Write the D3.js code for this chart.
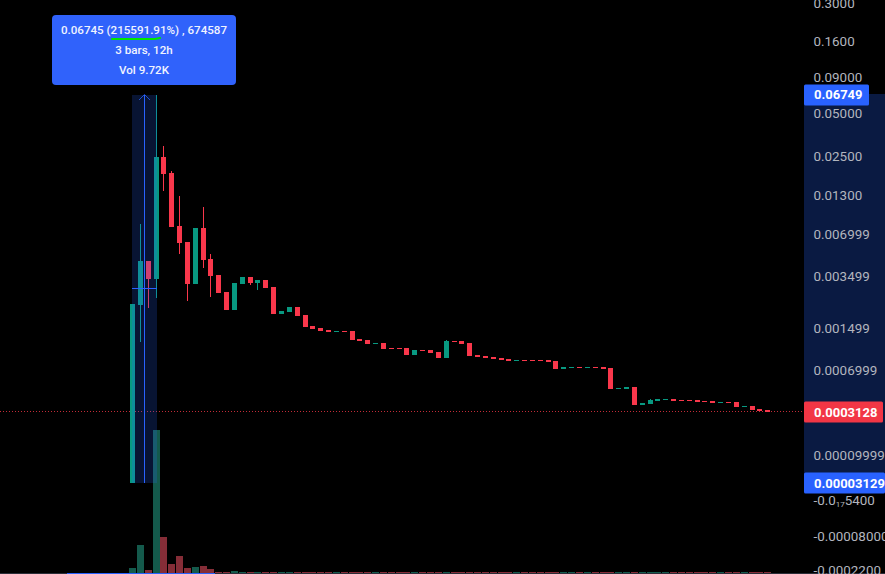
<!DOCTYPE html>
<html><head><meta charset="utf-8">
<style>html,body{margin:0;padding:0;background:#000;overflow:hidden}svg{display:block}text{font-family:Roboto,sans-serif}</style>
<script src="https://cdn.jsdelivr.net/npm/d3@7"></script></head><body>
<svg id="c" width="885" height="574"></svg>
<script>
// Prices in millionths (value * 1e-6)
const opens=[31.29,2181,4482,3332,24580,18800,7947,6133,3071,7699,4632,3557,2696,2010,3071,3442,3122,3278,2925,1883,1946,2111,1853,1549,1499,1446,1394,1420,1420,1228,1206,1121,1142,1043,1043,1043,918.7,1006,1006,970,870,1184,1184,1142,918.7,902.2,886,870,854.4,824,839.1,839.1,839.1,839.1,824,712.7,725.7,739,725.7,739,739,725.7,486.2,486.2,505.2,357.7,364.7,386.3,393.7,401.4,393.7,393.7,393.7,386.3,386.3,371.7,378.9,378.9,344.3,350.9,331.3,325];
const closes=[2217,4482,3332,24580,18490,7822,6033,3071,7699,4557,3499,2652,2010,3122,3442,3122,3278,2877,1883,1978,2111,1823,1524,1472,1420,1394,1420,1394,1206,1184,1121,1142,1025,1025,1025,918.7,1006,987.8,952.6,870,1184,1163,1121,902.2,886,870,854.4,839.1,824,839.1,824,824,824,809.2,712.7,739,739,725.7,739,725.7,712.7,486.2,495.6,505.2,357.7,371.7,393.7,401.4,401.4,386.3,386.3,386.3,378.9,378.9,371.7,378.9,371.7,344.3,350.9,325,318.9,312.8];
const highs=[2217,8203,4482,67490,29370,19440,12800,6133,7699,10740,5031,3557,2696,3122,3442,3442,3278,3278,2925,1978,2111,2111,1853,1549,1499,1446,1420,1420,1420,1228,1206,1142,1142,1043,1043,1043,1006,1006,1006,970,1206,1184,1184,1142,918.7,902.2,886,870,854.4,839.1,839.1,839.1,839.1,839.1,824,739,739,739,739,739,739,725.7,495.6,505.2,505.2,371.7,401.4,401.4,401.4,401.4,393.7,393.7,393.7,386.3,386.3,378.9,378.9,378.9,350.9,350.9,331.3,325];
const lows=[31.29,1163,2077,2445,13900,7822,5031,2328,3071,3993,2485,2652,2010,2010,3071,3022,2785,2877,1883,1883,1946,1823,1524,1472,1420,1394,1394,1394,1206,1184,1121,1121,1025,1025,1025,918.7,918.7,987.8,952.6,870,870,1163,1121,902.2,886,870,854.4,839.1,824,824,824,824,824,809.2,712.7,712.7,725.7,725.7,725.7,725.7,712.7,486.2,486.2,486.2,357.7,357.7,364.7,386.3,393.7,386.3,386.3,386.3,378.9,378.9,371.7,371.7,371.7,344.3,344.3,325,318.9,312.8];
const volumes=[280,1565,168,7990,2010,503,950,280,335,390,224,56,56,112,56,56,30,30,30,30,30,30,30,30,30,30,30,30,30,30,30,30,30,30,30,30,30,30,30,30,30,30,30,30,30,30,30,30,30,30,30,30,30,30,30,30,30,30,30,30,30,30,30,30,30,30,30,30,30,30,30,30,30,30,30,30,30,30,30,30,30,30];
const tickValues=[0.3,0.16,0.09,0.05,0.025,0.013,0.006999,0.003499,0.001499,0.0006999,0.00009999];
const tickLabels=["0.3000","0.1600","0.09000","0.05000","0.02500","0.01300","0.006999","0.003499","0.001499","0.0006999","0.00009999"];
const negValues=[-5.4e-22,-0.00008,-0.00022];
const negLabels=["-0.0₁₇5400","-0.00008000","-0.0002200"];
const rangeHigh=0.06749, rangeLow=0.00003129, lastPrice=0.0003128, crossPrice=0.002877;
const tooltipLines=["0.06745 (215591.91%) , 674587","3 bars, 12h","Vol 9.72K"];
const unit=1e-6;

const GREEN="#089981",RED="#f9374b",BLUE="#2962ff";
const svg=d3.select("#c");
const n=opens.length;
const x=d3.scaleLinear().domain([0,n-1]).range([132.5,767.7]);
const px=i=>Math.floor(x(i))+0.5;
const y=d3.scaleLog()
  .domain([0.3,0.16,0.09,0.05,0.025,0.013,0.006999,0.003499,0.001499,0.0006999,0.0003128,0.00009999,0.00003129])
  .range([3,41,77,113,156,195,234,276,328,370,412,455,483]);
const yNeg=d3.scaleLinear().domain(negValues).range([499.5,536,570]);
const yVol=d3.scaleLinear().domain([0,d3.max(volumes)]).range([573,430]);
const idx=d3.range(n);
const up=i=>closes[i]>=opens[i];
const axisX=804;

svg.append("rect").attr("width",885).attr("height",574).attr("fill","#000");

// bottom edge
svg.append("line").attr("x1",0).attr("x2",885).attr("y1",573.5).attr("y2",573.5).attr("stroke","#2a2e39");
svg.append("line").attr("x1",67).attr("x2",215).attr("y1",573.5).attr("y2",573.5).attr("stroke",BLUE);

// last price line
svg.append("line").attr("x1",0).attr("x2",axisX).attr("y1",y(lastPrice)-0.5).attr("y2",y(lastPrice)-0.5)
  .attr("stroke","#f23645").attr("stroke-opacity",.8).attr("stroke-dasharray","1 2");

// volumes
svg.append("g").attr("shape-rendering","crispEdges").selectAll("rect").data(idx).join("rect")
  .attr("x",i=>px(i)-3.5).attr("width",7)
  .attr("y",i=>Math.min(572,Math.round(yVol(volumes[i])))).attr("height",i=>573-Math.min(572,Math.round(yVol(volumes[i]))))
  .attr("fill",i=>up(i)?"#145a4c":"#852d37");

// wicks
svg.append("g").attr("shape-rendering","crispEdges").selectAll("line").data(idx).join("line")
  .attr("x1",px).attr("x2",px)
  .attr("y1",i=>Math.round(y(highs[i]*unit))).attr("y2",i=>Math.round(y(lows[i]*unit)))
  .attr("stroke",i=>up(i)?GREEN:RED);

// bodies
svg.append("g").attr("shape-rendering","crispEdges").selectAll("rect").data(idx).join("rect")
  .attr("x",i=>px(i)-2.5).attr("width",5)
  .attr("y",i=>Math.round(y(Math.max(opens[i],closes[i])*unit)))
  .attr("height",i=>Math.max(1,Math.round(y(Math.min(opens[i],closes[i])*unit))-Math.round(y(Math.max(opens[i],closes[i])*unit))))
  .attr("fill",i=>up(i)?GREEN:RED);

// measured range overlay
const bandTop=Math.round(y(rangeHigh)),bandBot=Math.round(y(rangeLow));
const bandL=Math.floor(x(0)),bandR=Math.ceil(x(3));
svg.append("rect").attr("x",bandL).attr("y",bandTop).attr("width",bandR-bandL).attr("height",bandBot-bandTop)
  .attr("fill",BLUE).attr("fill-opacity",.2).attr("shape-rendering","crispEdges");
const midX=Math.floor((x(0)+x(3))/2)+0.5;
svg.append("line").attr("x1",midX).attr("x2",midX).attr("y1",bandTop).attr("y2",bandBot).attr("stroke",BLUE).attr("shape-rendering","crispEdges");
svg.append("line").attr("x1",bandL).attr("x2",bandR).attr("y1",y(crossPrice)+.5).attr("y2",y(crossPrice)+.5).attr("stroke",BLUE).attr("shape-rendering","crispEdges");
svg.append("path").attr("d",d3.line()([[midX-5.5,bandTop+5],[midX,bandTop-0.5],[midX+5.5,bandTop+5]]))
  .attr("fill","none").attr("stroke",BLUE).attr("stroke-opacity",.75).attr("stroke-width",1);

// axis band
svg.append("rect").attr("x",axisX).attr("y",bandTop-1).attr("width",885-axisX).attr("height",bandBot-bandTop+1)
  .attr("fill","#0a1a42").attr("shape-rendering","crispEdges");

// price axis
function styleAxis(g){
  g.select(".domain").remove();
  g.selectAll(".tick line").remove();
  g.selectAll("text").attr("x",0).attr("dy","0.35em").attr("fill","#b2b5be").attr("font-size",13.4).attr("font-family","Roboto,sans-serif");
}
svg.append("g").attr("transform",`translate(813.5,0)`)
  .call(d3.axisRight(y).tickValues(tickValues).tickFormat(d=>tickLabels[tickValues.indexOf(d)]).tickSize(0))
  .call(styleAxis);
svg.append("g").attr("transform",`translate(813.5,0)`)
  .call(d3.axisRight(yNeg).tickValues(negValues).tickFormat(d=>negLabels[negValues.indexOf(d)]).tickSize(0))
  .call(styleAxis)
  .selectAll("text").filter(d=>d===negValues[0]).each(function(){
    const t=d3.select(this),parts=t.text().split("₁₇");
    t.text(parts[0]);
    t.append("tspan").attr("font-size",8).attr("dy",2).text("17");
    t.append("tspan").attr("dy",-2).text(parts[1]);
  });

// price tags
const tags=[
 {v:rangeHigh,label:"0.06749",w:65,fill:BLUE},
 {v:lastPrice,label:"0.0003128",w:79,fill:"#f23645"},
 {v:rangeLow,label:"0.00003129",w:81,fill:BLUE}];
const tg=svg.append("g").selectAll("g").data(tags).join("g");
tg.append("rect").attr("x",axisX).attr("y",d=>Math.round(y(d.v))-10.5).attr("width",d=>d.w).attr("height",21).attr("rx",1.5).attr("fill",d=>d.fill);
tg.append("text").attr("x",814).attr("y",d=>y(d.v)).attr("dy","0.35em").attr("fill","#fff").attr("font-size",13).attr("font-weight",700).text(d=>d.label);

// tooltip
svg.append("rect").attr("x",52).attr("y",15).attr("width",184).attr("height",70).attr("rx",4).attr("fill","#3062fb");
svg.append("g").selectAll("text").data(tooltipLines).join("text")
  .attr("x",144).attr("y",(d,i)=>30+i*20).attr("dy","0.35em").attr("text-anchor","middle")
  .attr("fill","#f0f3ff").attr("font-size",11.6).attr("font-weight",500).text(d=>d);
svg.append("path").attr("d",d3.line()([[112,39],[155,39],[160,38]]))
  .attr("fill","none").attr("stroke","#00e600").attr("stroke-width",2.2).attr("stroke-linecap","round");
</script></body></html>
